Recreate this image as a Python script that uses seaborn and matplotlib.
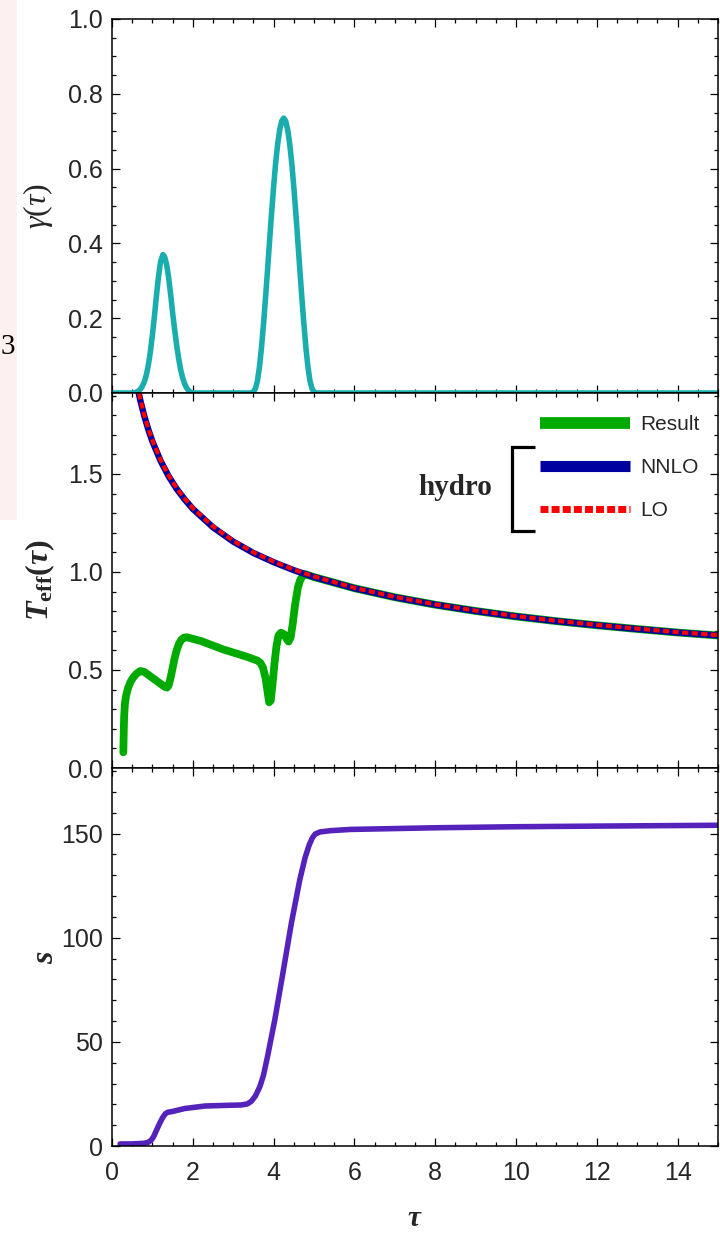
import numpy as np
import pandas as pd
import matplotlib
matplotlib.use("Agg")
import matplotlib.pyplot as plt
from matplotlib.patches import Rectangle
from matplotlib.ticker import MultipleLocator, FormatStrFormatter
import seaborn as sns

# ---------------- data ----------------
tau_gamma = [0.0, 0.55, 0.60, 0.65, 0.70, 0.75, 0.80, 0.85, 0.90, 0.95, 1.00, 1.05,
             1.10, 1.15, 1.20, 1.26, 1.30, 1.35, 1.40, 1.45, 1.50, 1.55, 1.60, 1.65,
             1.70, 1.75, 1.80, 1.85, 1.90, 1.95, 2.00,
             3.45, 3.50, 3.55, 3.60, 3.65, 3.70, 3.75, 3.80, 3.85, 3.90, 3.95, 4.00,
             4.05, 4.10, 4.15, 4.20, 4.25, 4.30, 4.35, 4.40, 4.45, 4.50, 4.55, 4.60,
             4.65, 4.70, 4.75, 4.80, 4.85, 4.90, 4.95, 5.00, 5.05, 15.0]
gamma = [0.0, 0.000, 0.002, 0.005, 0.010, 0.018, 0.030, 0.048, 0.075, 0.110, 0.155,
         0.205, 0.260, 0.310, 0.350, 0.370, 0.365, 0.345, 0.310, 0.265, 0.215, 0.170,
         0.128, 0.092, 0.062, 0.040, 0.024, 0.013, 0.006, 0.002, 0.0,
         0.0, 0.003, 0.012, 0.032, 0.070, 0.121, 0.184, 0.254, 0.329, 0.406, 0.481,
         0.551, 0.614, 0.665, 0.703, 0.727, 0.735, 0.727, 0.703, 0.665, 0.614, 0.551,
         0.481, 0.406, 0.329, 0.254, 0.184, 0.121, 0.070, 0.032, 0.012, 0.003, 0.0,
         0.0]

tau_hydro = [0.62, 0.7, 0.8, 0.9, 1.0, 1.2, 1.4, 1.6, 1.8, 2.0, 2.5, 3.0, 3.5, 4.0,
             4.5, 5.0, 6.0, 7.0, 8.0, 9.0, 10.0, 11.0, 12.0, 13.0, 14.0, 15.0]
T_nnlo = [1.954, 1.876, 1.795, 1.726, 1.666, 1.568, 1.489, 1.424, 1.370, 1.322, 1.228,
          1.155, 1.097, 1.050, 1.009, 0.974, 0.917, 0.871, 0.833, 0.801, 0.773, 0.749,
          0.728, 0.709, 0.691, 0.676]
T_lo = [1.960, 1.882, 1.800, 1.731, 1.671, 1.573, 1.493, 1.428, 1.374, 1.326, 1.232,
        1.159, 1.100, 1.053, 1.012, 0.977, 0.919, 0.873, 0.835, 0.803, 0.775, 0.751,
        0.730, 0.711, 0.693, 0.678]

tau_result = [0.28, 0.29, 0.30, 0.32, 0.35, 0.40, 0.46, 0.52, 0.60, 0.70, 0.80, 0.90,
              1.0, 1.1, 1.2, 1.30, 1.36, 1.40, 1.45, 1.50, 1.55, 1.60, 1.66, 1.72,
              1.78, 1.85, 2.2, 2.75, 3.3, 3.6, 3.68, 3.74, 3.80, 3.85, 3.89, 3.93,
              3.97, 4.02, 4.07, 4.12, 4.18, 4.26, 4.32, 4.37, 4.42, 4.47, 4.53, 4.60,
              4.66, 4.72, 4.78, 5.0, 6.0, 7.0, 8.0, 9.0, 10.0, 11.0, 12.0, 13.0, 14.0,
              15.0]
T_result = [0.08, 0.18, 0.26, 0.33, 0.37, 0.41, 0.44, 0.46, 0.48, 0.495, 0.49, 0.475,
            0.46, 0.445, 0.43, 0.415, 0.41, 0.42, 0.46, 0.51, 0.56, 0.60, 0.635, 0.655,
            0.665, 0.667, 0.648, 0.605, 0.57, 0.548, 0.535, 0.51, 0.46, 0.39, 0.335,
            0.345, 0.42, 0.53, 0.62, 0.675, 0.69, 0.682, 0.66, 0.645, 0.665, 0.73, 0.83,
            0.92, 0.96, 0.98, 0.989, 0.974, 0.917, 0.871, 0.833, 0.801, 0.773, 0.749,
            0.728, 0.709, 0.691, 0.676]

tau_s = [0.2, 0.5, 0.8, 0.9, 0.97, 1.03, 1.1, 1.17, 1.25, 1.32, 1.38, 1.5, 1.8, 2.3,
         2.8, 3.2, 3.35, 3.45, 3.55, 3.66, 3.75, 3.85, 4.03, 4.23, 4.44, 4.65, 4.78,
         4.88, 4.96, 5.03, 5.15, 5.4, 5.9, 8.0, 10.0, 12.0, 15.0]
s_vals = [1.0, 1.0, 1.3, 1.8, 2.8, 4.5, 7.5, 10.5, 13.5, 15.5, 16.2, 16.6, 18.0, 19.2,
          19.5, 19.7, 20.2, 21.5, 24.0, 28.5, 34.0, 43.0, 60.6, 83.0, 107.0, 128.0,
          138.5, 144.5, 148.0, 149.8, 150.8, 151.4, 152.0, 152.8, 153.3, 153.6, 154.0]

x_ticks = [0, 2, 4, 6, 8, 10, 12, 14]
legend_labels = ["Result", "NNLO", "LO"]

# ---------------- style ----------------
sns.set_style("ticks")
plt.rcParams["font.family"] = ["Liberation Sans", "DejaVu Sans"]
plt.rcParams["mathtext.fontset"] = "custom"
plt.rcParams["mathtext.rm"] = "Liberation Serif"
plt.rcParams["mathtext.it"] = "Liberation Serif:italic"
plt.rcParams["mathtext.bf"] = "Liberation Serif:bold"
plt.rcParams["mathtext.bfit"] = "Liberation Serif:italic:bold"

fig = plt.figure(figsize=(7.2, 12.37), dpi=100)
fig.patch.set_facecolor("white")

W, H = 720.0, 1237.0
left = 112 / W
width = 606 / W
ax1 = fig.add_axes([left, 1 - 393 / H, width, 374 / H])
ax2 = fig.add_axes([left, 1 - 768 / H, width, 375 / H])
ax3 = fig.add_axes([left, 1 - 1146 / H, width, 378 / H])

# pink strip with stray "3" on the left
fig.patches.append(Rectangle((0, 1 - 520 / H), 17 / W, 520 / H, transform=fig.transFigure,
                             facecolor="#fdf0f0", edgecolor="none", zorder=0))
fig.text(1 / W, 1 - 347 / H, "3", ha="left", va="center", fontsize=21,
         family=["Liberation Serif"], color="black")

# ---------------- panel 1: gamma ----------------
df_g = pd.DataFrame({"tau": tau_gamma, "gamma": gamma})
sns.lineplot(data=df_g, x="tau", y="gamma", ax=ax1, color="#1aadad", lw=4.0, sort=False)
ax1.set_ylim(0, 1.0)

# ---------------- panel 2: T_eff ----------------
df_r = pd.DataFrame({"tau": tau_result, "T": T_result})
df_n = pd.DataFrame({"tau": tau_hydro, "T": T_nnlo})
df_l = pd.DataFrame({"tau": tau_hydro, "T": T_lo})
sns.lineplot(data=df_r, x="tau", y="T", ax=ax2, color="#00aa00", lw=5.6, sort=False,
             label=legend_labels[0])
sns.lineplot(data=df_n, x="tau", y="T", ax=ax2, color="#0000a0", lw=4.6, sort=False,
             label=legend_labels[1])
sns.lineplot(data=df_l, x="tau", y="T", ax=ax2, color="#ff0000", lw=3.0, sort=False,
             label=legend_labels[2])
ax2.lines[2].set_dashes([1.5, 0.8])
ax2.set_ylim(0, 1.913)

leg = ax2.legend(loc="upper left", bbox_to_anchor=(0.706, 0.941), frameon=False,
                 fontsize=15, handlelength=4.33, handletextpad=0.48, labelspacing=1.15,
                 borderpad=0, borderaxespad=0)
hl = leg.get_lines()
hl[0].set_linewidth(8.5)
hl[1].set_linewidth(8.0)
hl[2].set_linewidth(5.0)
hl[2].set_dashes([1.15, 0.45])
for h in hl:
    h.set_solid_capstyle("butt")
    h.set_dash_capstyle("butt")

# bracket + "hydro"
ax2.plot([0.698, 0.660, 0.660, 0.698], [0.856, 0.856, 0.632, 0.632], color="black",
         lw=2.3, transform=ax2.transAxes, clip_on=False, solid_joinstyle="miter",
         solid_capstyle="butt")
ax2.text(0.566, 0.747, "hydro", transform=ax2.transAxes, ha="center", va="center",
         fontsize=21, fontweight="bold", family=["Liberation Serif"])

# ---------------- panel 3: s ----------------
df_s = pd.DataFrame({"tau": tau_s, "s": s_vals})
sns.lineplot(data=df_s, x="tau", y="s", ax=ax3, color="#5522bb", lw=4.0, sort=False)
ax3.set_ylim(0, 181.5)

# ---------------- axes formatting ----------------
for ax in (ax1, ax2, ax3):
    ax.set_xlim(0, 15)
    ax.xaxis.set_major_locator(MultipleLocator(2))
    ax.xaxis.set_minor_locator(MultipleLocator(0.5))
    ax.tick_params(which="both", direction="in", top=True, right=True, width=0.9,
                   color="black")
    ax.tick_params(which="major", length=5.5)
    ax.tick_params(which="minor", length=3)
    ax.tick_params(axis="y", labelsize=18, pad=6.5)
    ax.tick_params(axis="x", labelsize=18, pad=11)
    for sp in ax.spines.values():
        sp.set_linewidth(1.1)
        sp.set_color("black")
        sp.set_visible(True)
    ax.set_xlabel("")
    ax.set_facecolor("white")

ax1.tick_params(axis="x", labelbottom=False)
ax2.tick_params(axis="x", labelbottom=False)
ax3.set_xticks(x_ticks)
ax3.xaxis.set_major_formatter(FormatStrFormatter("%d"))

ax1.yaxis.set_major_locator(MultipleLocator(0.2))
ax1.yaxis.set_minor_locator(MultipleLocator(0.05))
ax1.yaxis.set_major_formatter(FormatStrFormatter("%.1f"))
ax2.yaxis.set_major_locator(MultipleLocator(0.5))
ax2.yaxis.set_minor_locator(MultipleLocator(0.1))
ax2.yaxis.set_major_formatter(FormatStrFormatter("%.1f"))
ax3.yaxis.set_major_locator(MultipleLocator(50))
ax3.yaxis.set_minor_locator(MultipleLocator(10))
ax3.yaxis.set_major_formatter(FormatStrFormatter("%d"))

ax1.set_ylabel(r"$\gamma(\tau)$", fontsize=23, va="center")
ax1.yaxis.set_label_coords(-0.122, 0.5)
ax2.set_ylabel(r"$\mathbfit{T}_{\mathbf{eff}}\mathbf{(}\mathbfit{\tau}\mathbf{)}$",
               fontsize=23, va="center")
ax2.yaxis.set_label_coords(-0.118, 0.5)
ax3.set_ylabel(r"$\mathbfit{s}$", fontsize=23, va="center")
ax3.yaxis.set_label_coords(-0.11, 0.5)
ax3.set_xlabel(r"$\mathbfit{\tau}$", fontsize=21, va="center")
ax3.xaxis.set_label_coords(0.5, -0.19)

fig.savefig("out.png", dpi=100)
